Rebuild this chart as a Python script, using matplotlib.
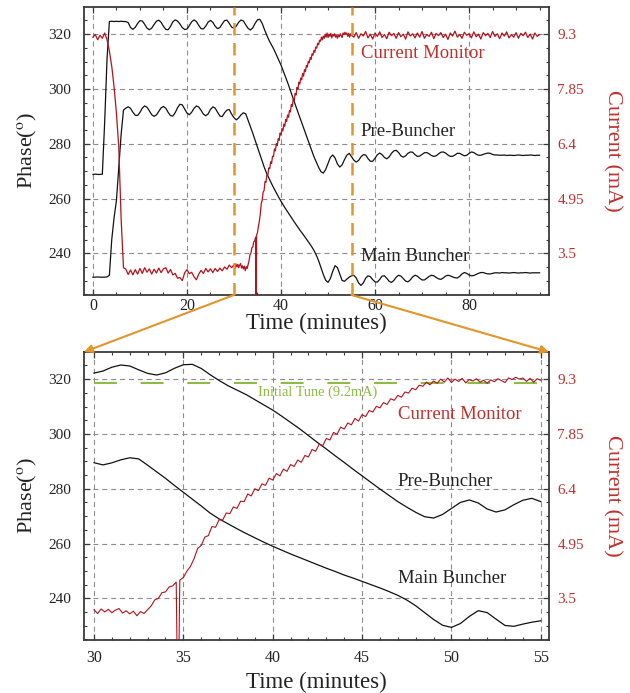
import numpy as np
import matplotlib
matplotlib.use("Agg")
import matplotlib.pyplot as plt
from matplotlib.patches import ConnectionPatch
from matplotlib.ticker import MultipleLocator, FixedLocator, FixedFormatter

plt.rcParams['font.family'] = ['Liberation Serif', 'DejaVu Serif']
plt.rcParams['mathtext.fontset'] = 'stix'

# ---------------- data ----------------
# phase curves sampled every 0.5 min from 0 to 95 min
t_phase = np.linspace(0, 95, 191)
pre_buncher = [
    268.8, 268.9, 268.8, 268.8, 268.9, 288.0, 311.0, 324.6, 324.7, 324.6,
    324.7, 324.6, 324.7, 324.6, 324.6, 324.2, 322.4, 321.75, 322.5, 323.9,
    324.9, 324.8, 323.6, 322.2, 321.6, 322.2, 323.5, 324.7, 325.1, 324.3,
    322.85, 321.7, 321.6, 322.8, 324.5, 325.2, 324.75, 323.7, 322.4, 321.7,
    321.85, 323.1, 324.5, 325.2, 324.6, 323.2, 322.0, 321.9, 322.95, 324.4,
    325.0, 324.3, 322.9, 322.0, 322.4, 323.75, 324.95, 325.1, 323.95, 322.55,
    322.2, 322.95, 324.35, 325.15, 324.8, 323.4, 322.1, 321.5, 322.3, 323.95,
    325.25, 325.4, 323.9, 321.6, 319.5, 317.6, 316.0, 314.4, 312.5, 310.6,
    308.7, 306.5, 304.2, 301.9, 299.4, 296.9, 294.5, 292.0, 289.6, 287.1,
    284.7, 282.3, 279.9, 277.6, 275.3, 273.3, 271.4, 269.8, 269.3, 270.6,
    272.8, 275.0, 275.9, 274.8, 272.6, 271.5, 272.3, 274.2, 275.8, 276.5,
    275.3, 274.0, 273.3, 273.9, 275.2, 276.0, 275.9, 274.6, 273.6, 273.6,
    274.7, 276.0, 276.6, 276.0, 275.0, 274.5, 275.2, 276.5, 277.4, 277.6,
    276.8, 275.6, 275.1, 275.6, 276.5, 277.0, 276.9, 276.0, 275.4, 275.5,
    276.1, 276.7, 276.8, 276.3, 275.7, 275.4, 275.6, 276.3, 276.9, 277.0,
    276.6, 275.9, 275.4, 275.4, 275.9, 276.5, 276.5, 276.0, 275.6, 275.8,
    276.5, 277.0, 276.8, 276.2, 275.8, 275.8, 276.1, 276.4, 276.6, 276.5,
    276.1, 275.9, 275.9, 275.8, 275.8, 275.9, 275.7, 275.8, 275.8, 275.7,
    275.8, 275.9, 275.8, 275.7, 275.8, 275.8, 275.9, 275.8, 275.7, 275.8,
    275.8,
]
main_buncher = [
    231.3, 231.3, 231.4, 231.3, 231.3, 231.3, 231.4, 232.0, 245.0, 253.0,
    259.3, 271.5, 283.5, 292.3, 293.0, 293.5, 292.9, 291.5, 290.4, 290.3,
    291.45, 293.0, 293.8, 293.3, 292.0, 290.6, 290.0, 290.5, 291.8, 293.1,
    293.6, 292.95, 291.45, 290.25, 290.1, 291.35, 293.15, 294.4, 294.2, 292.7,
    291.2, 290.6, 291.5, 292.9, 293.8, 293.4, 292.2, 290.8, 290.2, 290.9,
    292.5, 293.45, 293.0, 291.5, 290.1, 289.9, 291.3, 292.3, 292.45, 290.8,
    289.5, 288.7, 289.45, 290.55, 291.3, 290.9, 288.6, 286.2, 283.8, 281.2,
    278.7, 276.2, 273.7, 271.1, 269.0, 267.2, 265.4, 263.7, 262.1, 260.5,
    259.0, 257.6, 256.2, 254.9, 253.6, 252.3, 251.0, 249.8, 248.5, 247.4,
    246.2, 245.0, 243.8, 242.5, 241.1, 239.4, 237.3, 234.8, 232.3, 230.2,
    229.4, 230.8, 233.4, 235.5, 234.8, 232.4, 230.1, 229.8, 230.6, 231.3,
    231.8, 232.0, 231.0, 229.2, 228.3, 229.2, 230.9, 231.8, 231.5, 230.4,
    229.6, 229.5, 230.5, 231.7, 231.8, 230.9, 229.8, 229.4, 230.1, 231.3,
    232.0, 231.7, 230.8, 229.9, 229.6, 230.3, 231.4, 232.0, 231.7, 230.9,
    230.3, 230.3, 230.9, 231.6, 232.0, 231.8, 231.2, 230.7, 230.5, 231.0,
    231.7, 232.0, 231.8, 231.4, 231.1, 231.0, 231.6, 232.5, 233.0, 232.7,
    232.1, 231.8, 231.9, 232.3, 232.7, 233.0, 233.0, 232.7, 232.5, 232.5,
    232.7, 232.9, 232.9, 232.8, 233.0, 232.9, 232.9, 232.8, 232.9, 233.0,
    232.9, 232.8, 232.9, 232.9, 233.0, 232.9, 232.8, 232.9, 232.9, 232.9,
    232.9,
]

# beam current (mA): 0-29.5 min every 0.5 min, 30-55 min every 0.2 min, 55.5-95 every 0.5 min
t_cur_a = np.linspace(0, 29.5, 60)
cur_a = [
    9.22, 9.29, 9.15, 9.27, 9.19, 9.33, 9.15, 8.85, 8.45, 7.90,
    7.20, 6.30, 4.40, 3.12, 3.08, 2.94, 3.06, 2.93, 3.07, 2.95,
    3.10, 2.97, 3.12, 3.00, 3.09, 2.95, 3.08, 2.98, 3.11, 2.99,
    3.09, 3.12, 2.98, 3.07, 2.93, 2.97, 2.84, 2.86, 2.78, 2.98,
    3.07, 2.96, 3.00, 2.88, 2.80, 2.95, 3.05, 2.97, 3.10, 3.01,
    3.09, 2.99, 3.10, 3.02, 3.11, 3.04, 3.14, 3.08, 3.19, 3.12,
]
t_cur_fine = np.linspace(30, 55, 126)
cur_fine = [
    3.20, 3.10, 3.22, 3.14, 3.21, 3.12, 3.19, 3.23, 3.11, 3.17,
    3.09, 3.16, 3.04, 3.15, 3.10, 3.20, 3.30, 3.46, 3.50, 3.65,
    3.67, 3.80, 3.83, 3.93, 3.98, 4.05, 4.22, 4.35, 4.55, 4.82,
    4.90, 5.12, 5.16, 5.40, 5.38, 5.58, 5.57, 5.76, 5.74, 5.92,
    5.88, 6.07, 6.06, 6.26, 6.21, 6.40, 6.35, 6.53, 6.49, 6.68,
    6.63, 6.80, 6.74, 6.92, 6.86, 7.04, 6.99, 7.16, 7.10, 7.28,
    7.24, 7.44, 7.39, 7.58, 7.54, 7.73, 7.69, 7.89, 7.84, 8.03,
    7.98, 8.14, 8.09, 8.26, 8.19, 8.36, 8.31, 8.47, 8.43, 8.58,
    8.54, 8.68, 8.63, 8.78, 8.74, 8.87, 8.82, 8.96, 8.93, 9.06,
    9.02, 9.14, 9.11, 9.22, 9.15, 9.25, 9.19, 9.30, 9.22, 9.33,
    9.21, 9.30, 9.24, 9.32, 9.20, 9.29, 9.25, 9.31, 9.22, 9.27,
    9.19, 9.28, 9.23, 9.31, 9.26, 9.21, 9.33, 9.29, 9.35, 9.30,
    9.33, 9.24, 9.32, 9.22, 9.31, 9.27,
]
# momentary beam dropout
dropout_t = 34.7
dropout_ma = 0.0
t_cur_b = np.linspace(55.5, 95, 80)
cur_b = [
    9.22, 9.34, 9.19, 9.31, 9.25, 9.37, 9.20, 9.30, 9.17, 9.33,
    9.24, 9.36, 9.21, 9.29, 9.18, 9.35, 9.26, 9.32, 9.19, 9.34,
    9.23, 9.30, 9.17, 9.36, 9.25, 9.31, 9.20, 9.33, 9.22, 9.37,
    9.19, 9.29, 9.24, 9.35, 9.18, 9.32, 9.26, 9.34, 9.21, 9.30,
    9.16, 9.33, 9.25, 9.38, 9.22, 9.29, 9.19, 9.35, 9.27, 9.31,
    9.20, 9.36, 9.23, 9.30, 9.17, 9.34, 9.26, 9.32, 9.21, 9.37,
    9.24, 9.31, 9.18, 9.33, 9.25, 9.36, 9.20, 9.29, 9.22, 9.34,
    9.19, 9.32, 9.26, 9.35, 9.21, 9.30, 9.17, 9.33, 9.24, 9.29,
]
initial_tune_ma = 9.2
zoom_window = (30, 55)

phase_ticks = [240, 260, 280, 300, 320]
current_ticks = [3.5, 4.95, 6.4, 7.85, 9.3]
current_tick_labels = ['3.5', '4.95', '6.4', '7.85', '9.3']

# --------------- styling ---------------
RED = '#b3121c'
RED_TXT = '#c0302b'
ORANGE = '#e3952b'
GREEN = '#8dbb45'
GRIDC = '#8c8c8c'
FRAME = '#3a3a3a'
BLACK = '#111111'
DARK = '#222222'

# phase <-> current mapping of the twin axes (320 deg <-> 9.3 mA, 240 deg <-> 3.5 mA)
PH_LIM = (224.8, 329.9)
def ph2ma(p):
    return 3.5 + (p - 240.0) * (9.3 - 3.5) / 80.0
MA_LIM = (ph2ma(PH_LIM[0]), ph2ma(PH_LIM[1]))

t_cur = np.concatenate([t_cur_a, t_cur_fine, t_cur_b])
cur = np.concatenate([cur_a, cur_fine, cur_b])
k = np.searchsorted(t_cur, dropout_t)
t_cur = np.insert(t_cur, k, dropout_t)
cur = np.insert(cur, k, dropout_ma)
pre = np.array(pre_buncher)
mb = np.array(main_buncher)

fig = plt.figure(figsize=(6.3, 6.93), dpi=100)
ax_top = fig.add_axes([84/630, 1-295/693, 465/630, 288/693])
ax_bot = fig.add_axes([84/630, 1-640/693, 465/630, 288/693])


def style(ax, ax2, xpad):
    ax.set_ylim(*PH_LIM)
    ax2.set_ylim(*MA_LIM)
    ax.yaxis.set_major_locator(FixedLocator(phase_ticks))
    ax.yaxis.set_minor_locator(MultipleLocator(5))
    ax.grid(True, which='major', linestyle=(0, (4.5, 3.5)), color=GRIDC, lw=0.8)
    ax.tick_params(which='both', direction='in', top=True, right=True,
                   colors=FRAME, labelcolor=DARK)
    ax.tick_params(which='major', length=4, width=0.9)
    ax.tick_params(which='minor', length=2.5, width=0.8)
    ax.tick_params(axis='y', labelsize=11, pad=9.5)
    ax.tick_params(axis='x', labelsize=11.5, pad=xpad)
    for s in ax.spines.values():
        s.set_color(FRAME)
        s.set_linewidth(1.3)
    ax2.yaxis.set_major_locator(FixedLocator(current_ticks))
    ax2.yaxis.set_major_formatter(FixedFormatter(current_tick_labels))
    ax2.tick_params(axis='y', length=0, labelsize=11, labelcolor=RED_TXT, pad=6)
    for s in ax2.spines.values():
        s.set_visible(False)
    ax.set_ylabel(r'Phase($^{\rm o}$)', fontsize=16, color=DARK)
    ax.yaxis.set_label_coords(-0.096, 0.5)
    ax2.set_ylabel('Current (mA)', fontsize=16, color=RED_TXT, rotation=-90, va='center')
    ax2.yaxis.set_label_coords(1.136, 0.5)


# ---- top panel ----
ax_top.plot(t_phase, pre, color=BLACK, lw=0.9, zorder=3)
ax_top.plot(t_phase, mb, color=BLACK, lw=0.9, zorder=3)
ax_top2 = ax_top.twinx()
ax_top2.plot(t_cur, cur, color=RED, lw=0.9, zorder=3)
ax_top.set_xlim(-1.9, 97.0)
ax_top.xaxis.set_major_locator(MultipleLocator(20))
ax_top.xaxis.set_minor_locator(MultipleLocator(5))
style(ax_top, ax_top2, 2.0)
for xv in zoom_window:
    ax_top2.axvline(xv, color=ORANGE, lw=1.8, linestyle=(0, (5, 3)), zorder=5)
ax_top.set_xlabel('Time (minutes)', fontsize=16.5, color=DARK)
ax_top.xaxis.set_label_coords(0.5, -0.062)
ax_top.text(57.0, 312.8, 'Current Monitor', color=RED_TXT, fontsize=13.5, va='center', ha='left', zorder=6)
ax_top.text(57.0, 284.5, 'Pre-Buncher', color=DARK, fontsize=13.5, va='center', ha='left', zorder=6)
ax_top.text(57.0, 238.9, 'Main Buncher', color=DARK, fontsize=13.5, va='center', ha='left', zorder=6)

# ---- bottom panel (zoom 30-55 min) ----
m = (t_phase >= zoom_window[0]) & (t_phase <= zoom_window[1])
ax_bot.plot(t_phase[m], pre[m], color=BLACK, lw=0.9, zorder=3)
ax_bot.plot(t_phase[m], mb[m], color=BLACK, lw=0.9, zorder=3)
ax_bot2 = ax_bot.twinx()
mc = (t_cur >= zoom_window[0]) & (t_cur <= zoom_window[1])
ax_bot2.plot(list(zoom_window), [initial_tune_ma, initial_tune_ma], color=GREEN, lw=1.5,
             linestyle=(0, (11, 11.4)), zorder=2)
ax_bot2.plot(t_cur[mc], cur[mc], color=RED, lw=0.8, zorder=3)
ax_bot.set_xlim(29.44, 55.46)
ax_bot.xaxis.set_major_locator(MultipleLocator(5))
ax_bot.xaxis.set_minor_locator(MultipleLocator(1))
style(ax_bot, ax_bot2, 7.0)
ax_bot.set_xlabel('Time (minutes)', fontsize=16.5, color=DARK)
ax_bot.xaxis.set_label_coords(0.5, -0.11)
ax_bot.text(39.15, 315.3, 'Initial Tune (9.2mA)', color=GREEN, fontsize=10.4, va='center', ha='left', zorder=6)
ax_bot.text(47.0, 307.1, 'Current Monitor', color=RED_TXT, fontsize=13.5, va='center', ha='left', zorder=6)
ax_bot.text(47.0, 282.5, 'Pre-Buncher', color=DARK, fontsize=13.5, va='center', ha='left', zorder=6)
ax_bot.text(47.0, 247.1, 'Main Buncher', color=DARK, fontsize=13.5, va='center', ha='left', zorder=6)

# ---- connecting arrows ----
for xv, corner in ((zoom_window[0], (0, 1)), (zoom_window[1], (1, 1))):
    con = ConnectionPatch(xyA=(xv, 0), coordsA=ax_top.get_xaxis_transform(),
                          xyB=corner, coordsB=ax_bot.transAxes,
                          arrowstyle='-|>', mutation_scale=12, color=ORANGE, lw=1.5,
                          shrinkA=0, shrinkB=0)
    fig.add_artist(con)

fig.savefig('out.png', dpi=100)
